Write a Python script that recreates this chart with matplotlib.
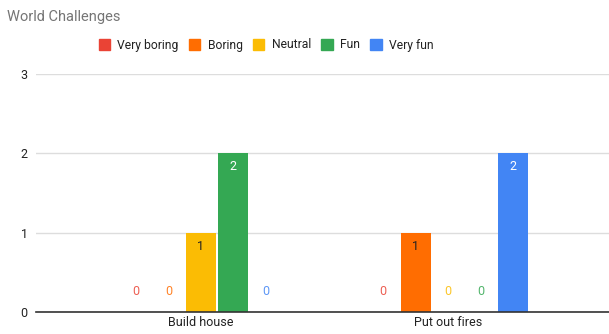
import numpy as np
import matplotlib.pyplot as plt
from matplotlib.patches import Patch

plt.rcParams['font.family'] = ['Roboto', 'DejaVu Sans']

# ── data ─────────────────────────────────────────────────────────────────────
categories = ["Build house", "Put out fires"]
series = ["Very boring", "Boring", "Neutral", "Fun", "Very fun"]
colors = ["#ea4335", "#ff6d01", "#fbbc04", "#34a853", "#4285f4"]
values = [
    [0, 0],   # Very boring
    [0, 1],   # Boring
    [1, 0],   # Neutral
    [2, 0],   # Fun
    [0, 2],   # Very fun
]

# ── figure ───────────────────────────────────────────────────────────────────
fig = plt.figure(figsize=(6.09, 3.34), dpi=100)
ax = fig.add_axes([36 / 609, 22 / 334, 573 / 609, 238 / 334])

x = np.arange(len(categories))
step = 0.131
width = 0.121

for i, (name, color, vals) in enumerate(zip(series, colors, values)):
    pos = x + (i - 2) * step
    ax.bar(pos, vals, width=width, color=color, zorder=3)
    for px, v in zip(pos, vals):
        if v == 0:
            ax.text(px, 0.26, "0", ha="center", va="center",
                    color=color, fontsize=9, alpha=0.85)
        else:
            txt_color = "#ffffff" if v >= 2 else "#222222"
            ax.text(px, v - 0.17, str(v), ha="center", va="center",
                    color=txt_color, fontsize=9, zorder=4)

ax.set_xlim(-0.668, 1.652)
ax.set_ylim(0, 3)
ax.set_yticks([0, 1, 2, 3])
ax.set_xticks(x)
ax.set_xticklabels(categories)
ax.tick_params(axis="both", length=0, labelsize=9, labelcolor="#222222")
ax.tick_params(axis="y", pad=6)
ax.tick_params(axis="x", pad=3)
ax.grid(axis="y", color="#dddddd", linewidth=1, zorder=0)
for s in ["top", "right", "left"]:
    ax.spines[s].set_visible(False)
ax.spines["bottom"].set_color("#333333")
ax.spines["bottom"].set_linewidth(1.2)
ax.spines["bottom"].set_zorder(5)

fig.text(7 / 609, 1 - 17 / 334, "World Challenges", ha="left", va="center",
         fontsize=10.5, color="#757575")

handles = [Patch(facecolor=c, edgecolor=c) for c in colors]
fig.legend(handles, series, loc="center", bbox_to_anchor=(266 / 609, 1 - 45 / 334),
           ncol=5, frameon=False, fontsize=8.7, handlelength=0.95, handleheight=0.95,
           handletextpad=0.6, columnspacing=0.85, labelcolor="#222222")

fig.savefig("out.png", dpi=100)
